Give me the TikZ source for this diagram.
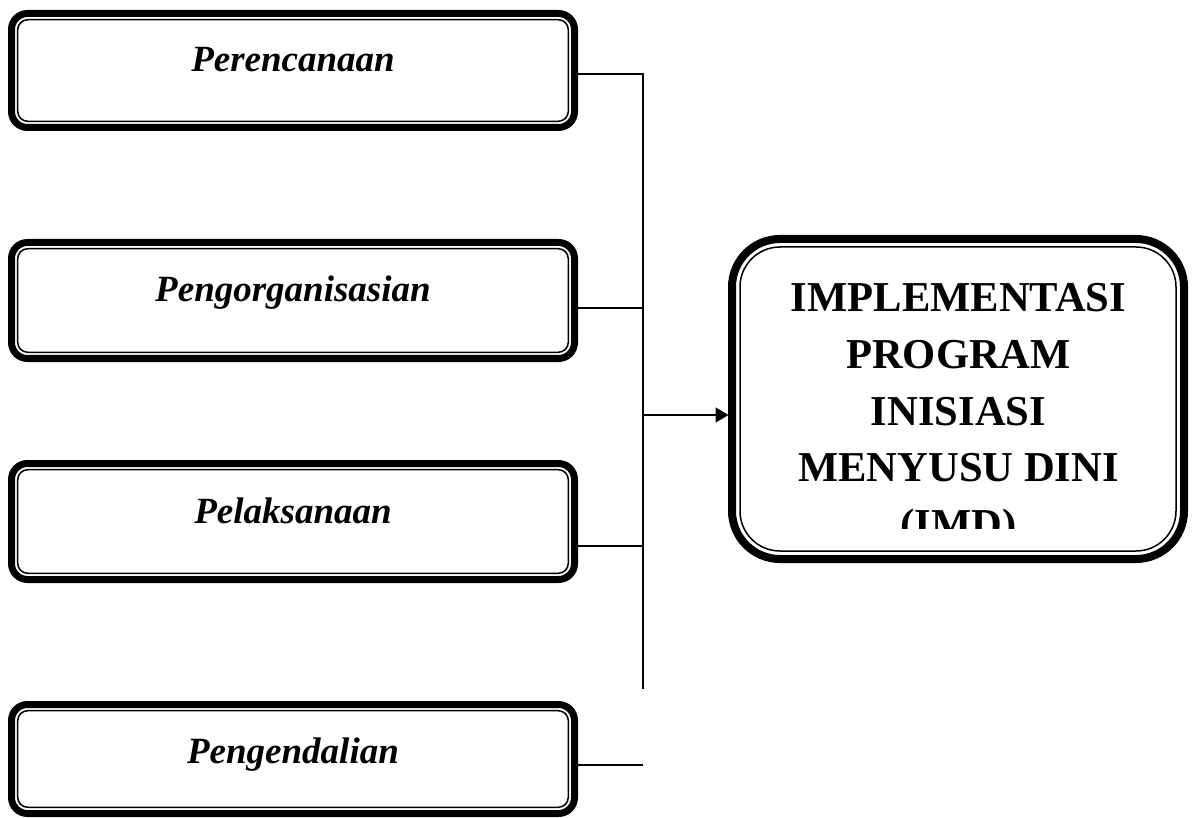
\documentclass[tikz,border=0pt]{standalone}
\usepackage{fontspec}
\setmainfont{Liberation Serif}
\usetikzlibrary{arrows.meta,calc}
\tikzset{
  sidebox/.style={draw, line width=7pt, rounded corners=16pt, inner sep=0pt, outer sep=0pt, minimum width=563pt},
  innerline/.style={draw, line width=1.5pt, rounded corners=10pt},
  mainbox/.style={draw, line width=8pt, rounded corners=48pt, inner sep=0pt, outer sep=0pt, minimum width=452pt, minimum height=320pt},
  lbl/.style={font=\fontsize{37}{44}\selectfont\bfseries\itshape, inner sep=0pt, anchor=base},
  big/.style={font=\fontsize{42.6}{57}\selectfont\bfseries, inner sep=0pt, anchor=base},
  conn/.style={line width=1.3pt},
}
\begin{document}
\begin{tikzpicture}[x=1pt,y=-1pt]
\useasboundingbox (0,0) rectangle (1197,818);
% side boxes
\node[sidebox, minimum height=114pt] (b1) at (293,70.5) {};
\node[sidebox, minimum height=116pt] (b2) at (293,300.5) {};
\node[sidebox, minimum height=116pt] (b3) at (293,521.5) {};
\node[sidebox, minimum height=109pt] (b4) at (293,759) {};
\foreach \bx in {b1,b2,b3,b4}{
  \draw[innerline] ($(\bx.north west)+(6.2,6.2)$) rectangle ($(\bx.south east)+(-6.2,-6.2)$);
}
\node[lbl] (t1) at (293,72) {Perencanaan};
\node[lbl] (t2) at (293,302) {Pengorganisasian};
\node[lbl] (t3) at (293,523) {Pelaksanaan};
\node[lbl] (t4) at (293,763) {Pengendalian};
% main box
\node[mainbox] (main) at (958,399) {};
\draw[line width=1.5pt, rounded corners=40pt] ($(main.north west)+(8,8)$) rectangle ($(main.south east)+(-8,-8)$);
\begin{scope}
\clip (742,250) rectangle (1174,528);
\node[big] (m1) at (958.5,311.7) {IMPLEMENTASI};
\node[big] (m2) at (958.5,368.4) {PROGRAM};
\node[big] (m3) at (958.5,425.1) {INISIASI};
\node[big] (m4) at (958.5,481.8) {MENYUSU DINI};
\node[big] (m5) at (958.5,538.5) {(IMD)};
\end{scope}
% connectors
\coordinate (v1) at (643,74);
\coordinate (v2) at (643,308);
\coordinate (v3) at (643,546);
\coordinate (v4) at (643,765);
\coordinate (vend) at (643,689);
\coordinate (j) at (643,415);
\draw[conn] (b1.east |- v1) -- (v1) -- (vend);
\draw[conn] (b2.east |- v2) -- (v2);
\draw[conn] (b3.east |- v3) -- (v3);
\draw[conn] (b4.east |- v4) -- (v4);
\draw[conn, -{Triangle[length=13pt,width=15pt]}, shorten >=3.5pt] (j) -- (j -| main.west);
\end{tikzpicture}
\end{document}
